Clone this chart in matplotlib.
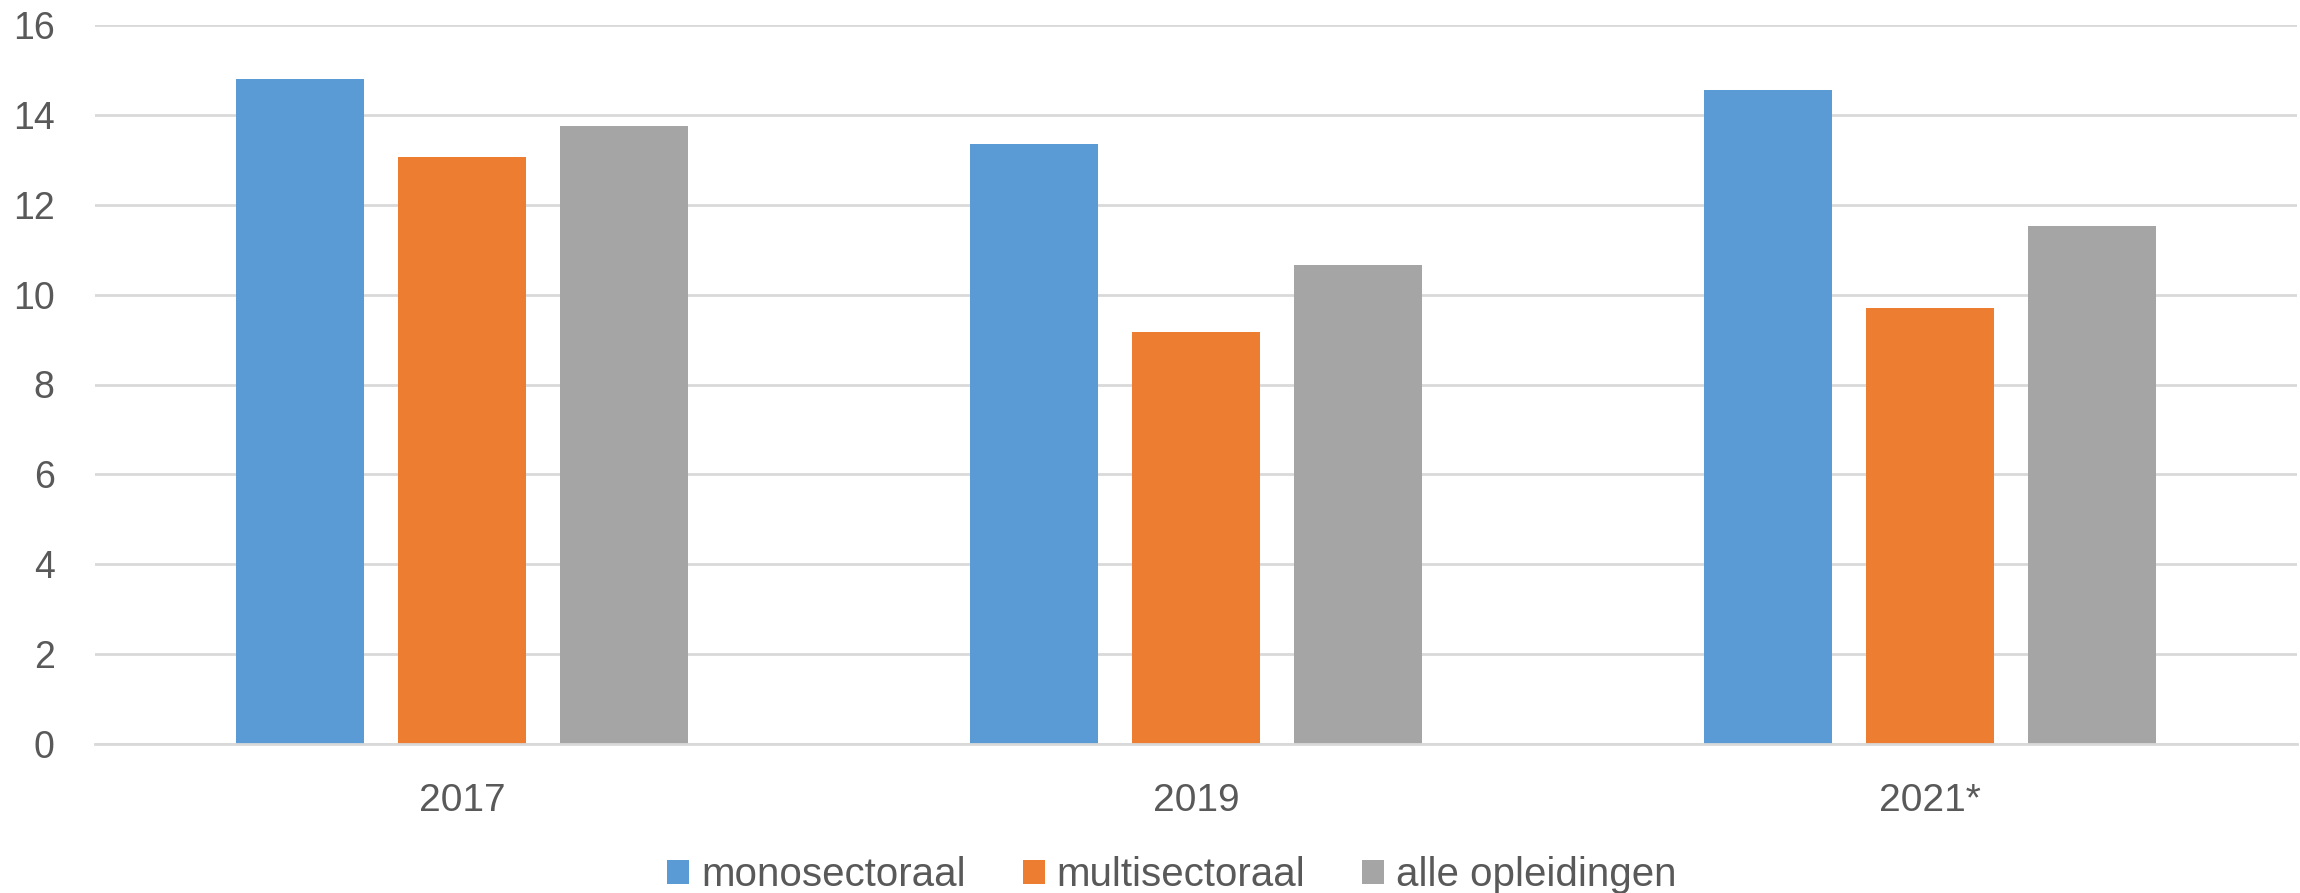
import numpy as np
import matplotlib
matplotlib.use("Agg")
import matplotlib.pyplot as plt
from matplotlib.patches import Patch

plt.rcParams['font.family'] = ['Liberation Sans', 'DejaVu Sans']

# data
years = ['2017', '2019', '2021*']
series = ['monosectoraal', 'multisectoraal', 'alle opleidingen']
mono = [14.8, 13.35, 14.55]
multi = [13.06, 9.17, 9.7]
alle = [13.75, 10.65, 11.53]
colors = ['#5b9bd5', '#ed7d31', '#a5a5a5']
yticks = [0, 2, 4, 6, 8, 10, 12, 14, 16]

fig = plt.figure(figsize=(23, 8.93), dpi=100)
ax = fig.add_axes([95/2300, 149/893, 2202/2300, 719/893])

x = np.arange(len(years))
w = 0.1744
step = 0.2207
for i, vals in enumerate([mono, multi, alle]):
    ax.bar(x + (i - 1) * step, vals, width=w, color=colors[i], zorder=2)

ax.set_xlim(-0.5, len(years) - 0.5)
ax.set_ylim(0, 16)
ax.set_yticks(yticks)
ax.set_xticks(x)
ax.set_xticklabels(years)
ax.yaxis.grid(True, color='#d9d9d9', linewidth=2, zorder=0)
ax.set_axisbelow(True)
for s in ['top', 'right', 'left']:
    ax.spines[s].set_visible(False)
ax.spines['bottom'].set_color('#d9d9d9')
ax.spines['bottom'].set_linewidth(2)
ax.tick_params(axis='y', length=0, pad=29, labelsize=27, labelcolor='#595959')
ax.tick_params(axis='x', length=0, pad=28, labelsize=28, labelcolor='#595959')

handles = [Patch(facecolor=c, edgecolor='none') for c in colors]
fig.legend(handles, series, loc='center', bbox_to_anchor=(1172/2300, 1 - 875/893),
           ncol=3, frameon=False, fontsize=29, labelcolor='#595959',
           handlelength=0.55, handleheight=0.55, handletextpad=0.3,
           columnspacing=1.4, borderpad=0)

fig.savefig('out.png', dpi=100)
